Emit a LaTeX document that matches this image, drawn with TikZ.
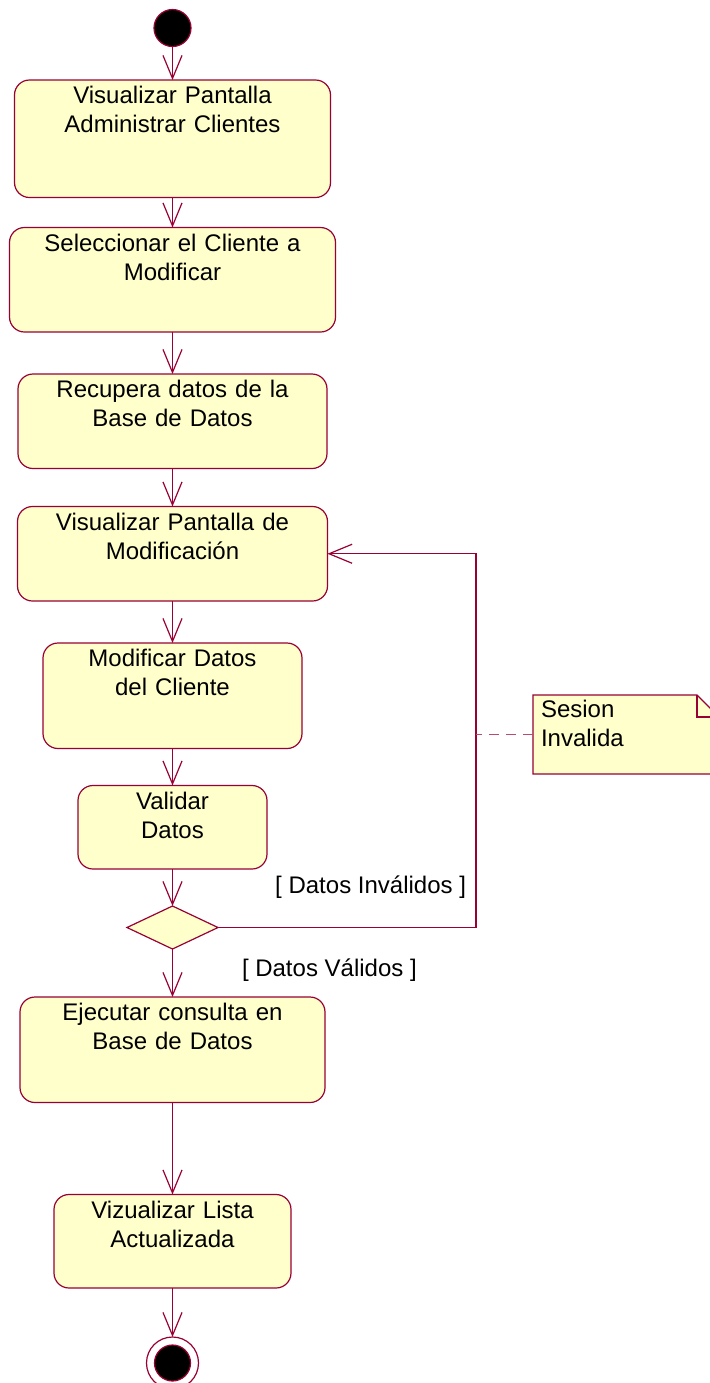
\documentclass[tikz,border=0pt]{standalone}
\usepackage{fontspec}
\setmainfont{Liberation Sans}
\usetikzlibrary{positioning,arrows.meta,shapes.geometric,backgrounds}
\definecolor{umlline}{RGB}{153,0,51}
\definecolor{umlfill}{RGB}{255,255,204}

\begin{document}
\begin{tikzpicture}[
      every node/.style={font=\fontsize{12}{14.5}\selectfont, outer sep=0pt},
      act/.style={rectangle, draw=umlline, fill=umlfill, line width=0.6pt,
                  rounded corners=7.5pt, align=center, inner xsep=4pt,
                  inner ysep=0pt, text height=11.75pt},
      initial/.style={circle, draw=umlline, fill=black, line width=0.6pt,
                      minimum size=18.5pt, inner sep=0pt},
      final/.style={circle, draw=umlline, line width=0.6pt, minimum size=26pt,
                    inner sep=0pt,
                    path picture={\filldraw[fill=black, draw=umlline]
                      (path picture bounding box.center) circle (9pt);}},
      choice/.style={diamond, draw=umlline, fill=umlfill, line width=0.6pt,
                     minimum width=45.5pt, minimum height=21.5pt, inner sep=0pt},
      flow/.style={draw=umlline, line width=0.6pt,
                   -{Straight Barb[length=11.5pt, width=9.5pt]}},
      guard/.style={inner sep=0pt},
      memo/.style={align=left, text width=85pt, inner xsep=4pt, inner ysep=0pt,
                   text height=11pt, text depth=28.5pt},
      link/.style={draw=umlline!70, line width=0.6pt, dash pattern=on 5pt off 3.5pt},
    ]
    \useasboundingbox (0,0) rectangle (354.5pt,-691.5pt);
    \node[initial] (start) at (86.25pt,-14pt) {};
    \node[act, text width=150pt, text depth=47pt, below=16.75pt of start] (act1)
      {Visualizar Pantalla\\Administrar Clientes};
    \node[act, text width=155pt, text depth=40.5pt, below=15pt of act1] (act2)
      {Seleccionar el Cliente a\\Modificar};
    \node[act, text width=146.5pt, text depth=35.5pt, below=21pt of act2] (act3)
      {Recupera datos de la\\Base de Datos};
    \node[act, text width=147pt, text depth=35.5pt, below=19pt of act3] (act4)
      {Visualizar Pantalla de\\Modificación};
    \node[act, text width=121.5pt, text depth=41pt, below=21pt of act4] (act5)
      {Modificar Datos\\del Cliente};
    \node[act, text width=86.5pt, text depth=30pt, below=18.5pt of act5] (act6)
      {Validar\\Datos};
    \node[choice, below=18.5pt of act6] (dec) {};
    \node[act, text width=144.5pt, text depth=41pt, below=24pt of dec] (act7)
      {Ejecutar consulta en\\Base de Datos};
    \node[act, text width=110.5pt, text depth=35pt, below=46pt of act7] (act8)
      {Vizualizar Lista\\Actualizada};
    \node[final, below=24.5pt of act8] (end) {};
    % main flow, straight down
    \draw[flow] (start) -- (act1);
    \draw[flow] (act1) -- (act2);
    \draw[flow] (act2) -- (act3);
    \draw[flow] (act3) -- (act4);
    \draw[flow] (act4) -- (act5);
    \draw[flow] (act5) -- (act6);
    \draw[flow] (act6) -- (dec);
    \draw[flow] (dec) -- (act7);
    \draw[flow] (act7) -- (act8);
    \draw[flow] (act8) -- (end);
    \node[guard, anchor=base west] (okguard) at ([xshift=34.75pt, yshift=-24.25pt]dec.center)
      {[ Datos Válidos ]};
    % invalid data goes back to the modification screen
    \coordinate (bend) at ([xshift=129pt]dec.east);
    \draw[flow] (dec.east) -- (bend) |- (act4.east);
    \node[guard, anchor=base east] (badguard) at ([xshift=-5pt, yshift=17.25pt]bend)
      {[ Datos Inválidos ]};
    % note with a folded corner
    \node[memo, anchor=north west] (note) at (266.5pt,-347.5pt) {Sesion\\Invalida};
    \begin{scope}[on background layer]
      \filldraw[draw=umlline, fill=umlfill, line width=0.6pt]
        (note.north west) -- ([xshift=-11pt]note.north east)
        -- ([yshift=-11pt]note.north east) -- (note.south east)
        -- (note.south west) -- cycle;
      \draw[umlline, line width=0.6pt] ([xshift=-11pt]note.north east)
        |- ([yshift=-11pt]note.north east);
    \end{scope}
    \draw[link] (note.west) -- (note.west -| bend);
  \end{tikzpicture}
\end{document}
